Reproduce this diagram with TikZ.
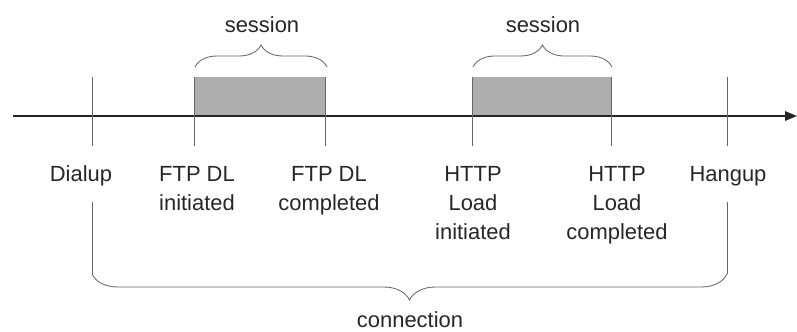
\documentclass[tikz,border=0pt]{standalone}
\usepackage{fontspec}
\setmainfont{Liberation Sans}
\usetikzlibrary{arrows.meta,positioning,decorations.pathreplacing}

\begin{document}
\begin{tikzpicture}[x=0.025cm, y=-0.025cm,
  lbl/.style={font=\fontsize{15.6}{20.6}\selectfont, text=black!85,
              align=center, inner sep=0pt, anchor=base},
  tick/.style={draw=black!60, line width=0.6pt},
  axis/.style={-{Triangle[length=0.3cm, width=0.24cm]}, line width=0.9pt, black!85},
  sess/.style={fill=black!32},
  brc/.style={decorate, decoration={brace, amplitude=#1}, draw=black!60, line width=0.6pt},
  brc/.default=0.55cm
]
  \useasboundingbox (0,0) rectangle (797,331);
  % Time axis
  \coordinate (t0) at (13,116);
  \coordinate (t1) at (797,116);
  % Event ticks
  \coordinate (dialT) at (92,77);   \coordinate (dialB) at (92,146);
  \coordinate (ftpAT) at (194,77);  \coordinate (ftpAB) at (194,146);
  \coordinate (ftpBT) at (325,77);  \coordinate (ftpBB) at (325,146);
  \coordinate (htpAT) at (472,77);  \coordinate (htpAB) at (472,146);
  \coordinate (htpBT) at (611,77);  \coordinate (htpBB) at (611,146);
  \coordinate (hangT) at (727,77);  \coordinate (hangB) at (727,146);
  % Sessions
  \fill[sess] (ftpAT) rectangle (ftpBT |- t0);
  \fill[sess] (htpAT) rectangle (htpBT |- t0);
  \draw[axis] (t0) -- (t1);
  \draw[tick] (dialT) -- (dialB);
  \draw[tick] (ftpAT) -- (ftpAB);
  \draw[tick] (ftpBT) -- (ftpBB);
  \draw[tick] (htpAT) -- (htpAB);
  \draw[tick] (htpBT) -- (htpBB);
  \draw[tick] (hangT) -- (hangB);
  % Labels (anchored at the baseline of the last line)
  \node[lbl] (dial) at (81,181) {Dialup};
  \node[lbl] (ftpA) at (197,210) {FTP DL\\initiated};
  \node[lbl] (ftpB) at (329,210) {FTP DL\\completed};
  \node[lbl] (htpA) at (473,239) {HTTP\\Load\\initiated};
  \node[lbl] (htpB) at (617,239) {HTTP\\Load\\completed};
  \node[lbl] (hang) at (728,181) {Hangup};
  % Braces
  \coordinate (sAL) at (195,67);  \coordinate (sAR) at (327,67);
  \coordinate (sBL) at (473,67);  \coordinate (sBR) at (612,67);
  \draw[brc] (sAL) -- (sAR);
  \draw[brc] (sBL) -- (sBR);
  \node[lbl] (sessA) at (262,32) {session};
  \node[lbl] (sessB) at (543,32) {session};
  \coordinate (cL) at (92,274);  \coordinate (cR) at (727,274);
  \draw[tick] (92,202) -- (cL);
  \draw[tick] (727,202) -- (cR);
  \draw[brc=0.65cm] (cR) -- (cL);
  \node[lbl] (conn) at (410,327) {connection};
\end{tikzpicture}
\end{document}
